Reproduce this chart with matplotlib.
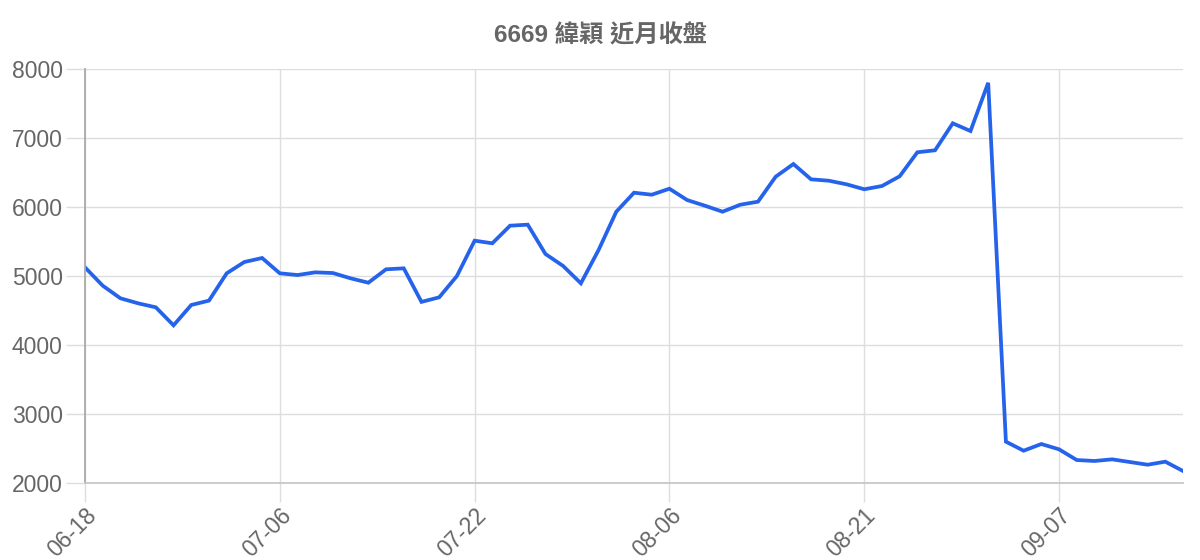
import matplotlib
matplotlib.use("Agg")
import matplotlib.pyplot as plt

plt.rcParams['font.family'] = ['Liberation Sans', 'Noto Sans CJK TC', 'DejaVu Sans']

# 收盤價 (近月)
close = [5125, 4860, 4677, 4604, 4546, 4285, 4580, 4643, 5039, 5203,
         5261, 5039, 5014, 5053, 5043, 4966, 4903, 5097, 5111, 4625,
         4691, 5000, 5512, 5474, 5729, 5744, 5319, 5145, 4894, 5377,
         5932, 6207, 6178, 6265, 6101, 6019, 5932, 6033, 6077, 6439,
         6623, 6401, 6381, 6329, 6257, 6304, 6445, 6793, 6822, 7213,
         7101, 7800, 2599, 2468, 2565, 2488, 2333, 2319, 2343, 2304,
         2265, 2309, 2174]
tick_labels = ['06-18', '07-06', '07-22', '08-06', '08-21', '09-07']
tick_step = 11
title = '6669 緯穎 近月收盤'

grid_c = '#dddddd'
text_c = '#666666'

fig = plt.figure(figsize=(12, 5.6), dpi=100)
ax = fig.add_axes([85 / 1200, 1 - 483 / 560, 1098 / 1200, 414 / 560])

x = list(range(len(close)))
ax.plot(x, close, color='#2563eb', linewidth=2.7, solid_joinstyle='miter')

ax.set_xlim(0, len(close) - 1)
ax.set_ylim(2000, 8000)
ax.set_yticks(range(2000, 8001, 1000))
ax.set_xticks(x[::tick_step])
ax.set_xticklabels(tick_labels, rotation=45, ha='right', va='top',
                   rotation_mode='anchor', fontsize=17.5)

ax.grid(True, color=grid_c, linewidth=1.0)
ax.set_axisbelow(True)
ax.tick_params(axis='both', colors=grid_c, labelcolor=text_c, labelsize=16.5,
               length=14, width=1.0)
ax.tick_params(axis='y', pad=2)
ax.tick_params(axis='x', pad=1)

for s in ['top', 'right']:
    ax.spines[s].set_visible(False)
ax.spines['left'].set_color('#aaaaaa')
ax.spines['left'].set_linewidth(1.3)
ax.spines['bottom'].set_color('#c8c8c8')
ax.spines['bottom'].set_linewidth(1.3)

fig.text(0.5, 1 - 36 / 560, title, ha='center', va='center',
         fontsize=17.5, fontweight='bold', color=text_c)

fig.savefig('out.png', dpi=100)
